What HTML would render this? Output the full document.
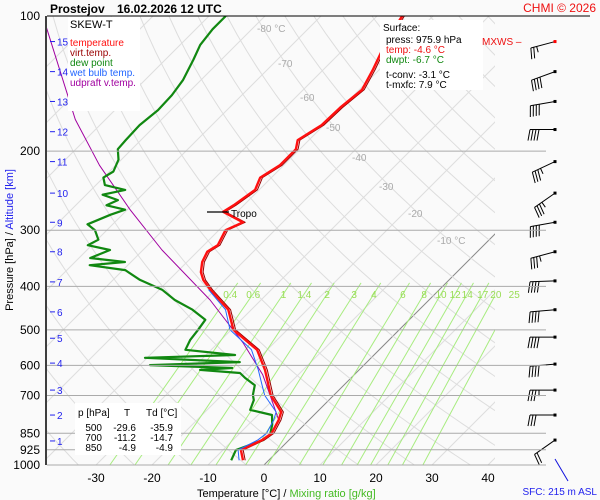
<!DOCTYPE html>
<html><head><meta charset="utf-8">
<style>
body{margin:0;background:#fafafa;}
svg{display:block;font-family:"Liberation Sans",sans-serif;}
</style></head>
<body>
<svg id="c" width="600" height="500" xmlns="http://www.w3.org/2000/svg">
<rect width="600" height="500" fill="#fafafa"/>
<g id="grid"></g>
<g id="series"></g>
<g id="barbs"></g>
<g id="labels"></g>
</svg>
<script>
// ---- data ----
const isobars = [100,200,300,400,500,600,700,850,925,1000];
const isobarLabels = ["100","200","300","400","500","600","700","850","925","1000"];
const xTicks = [-30,-20,-10,0,10,20,30,40];
const mixRatios = [0.4,0.6,1,1.4,2,3,4,6,8,10,12,14,17,20,25];
const altKm = [1,2,3,4,5,6,7,8,9,10,11,12,13,14,15];
const altPres = [884,774,681,593,522,456,391,335,288,248,211,181,155,133,114];
const tempP = [976,926,880,850,794,762,700,614,554,500,451,407,387,372,353,335,324,300,288,273,264,244,229,215,198,189,175,160,146,132,119,110,100];
const tempT = [-4.6,-6.8,-4.8,-4.3,-5.4,-6.4,-11.2,-16.8,-21.8,-29.6,-34.1,-40.9,-43.9,-45.7,-47.3,-48.2,-47.5,-48.8,-47.1,-52.5,-51.8,-50.7,-52.0,-50.7,-50.7,-52.0,-50.4,-50.2,-49.5,-51.1,-53.0,-54.3,-55.5];
const wbP = [976,926,880,850,794,762,700,664,614,554,500,451,407];
const wbT = [-5.3,-7.3,-5.6,-5.2,-6.3,-7.3,-12.3,-14.6,-18.0,-22.8,-30.2,-34.6,-41.2];
const dewP = [976,926,880,857,814,774,754,717,698,664,640,624,614,608,599,590,577,569,554,527,500,475,451,429,407,387,368,359,353,346,332,324,315,300,291,277,270,264,257,250,244,238,229,222,209,198,189,175,162,150,139,125,116,107,100];
const dewT = [-6.7,-7.7,-4.6,-4.3,-5.7,-7.5,-12.3,-13.4,-14.5,-15.9,-18.9,-20.7,-28.4,-23.0,-38.2,-22.7,-40.4,-24.8,-34.6,-35.5,-35.9,-36.4,-40.5,-45.4,-49.5,-55.2,-59.6,-66.8,-61.1,-68.0,-65.9,-70.7,-69.8,-72.1,-74.5,-72.1,-70.4,-74.5,-73.4,-77.1,-73.9,-78.4,-80.0,-79.3,-80.5,-82.5,-82.7,-82.9,-82.3,-82.5,-83.2,-85.0,-86.4,-87.0,-87.0];
const parcelP = [794,717,630,535,429,332,270,215,170,106];
const parcelT = [-5.4,-10.2,-16.3,-25.5,-39.1,-56.6,-69.5,-82.9,-95.4,-117];
const windP = [114,133,155,179,211,248,288,335,389,451,519,596,681,774,880];
const windDir = [255,250,260,270,245,235,260,255,268,265,270,265,270,270,235];
const windKt = [25,40,40,40,35,35,40,35,40,40,40,40,35,30,20];

// ---- axes ----
const L=47,R=495,TOP=16,BOT=465;
function py(p){return BOT-449*Math.log10(1000/p);}
function tx(T,p){return 264+5.6*T+(BOT-py(p));}
const NS="http://www.w3.org/2000/svg";
function mk(tag,attrs,parent){const e=document.createElementNS(NS,tag);for(const k in attrs)e.setAttribute(k,attrs[k]);parent.appendChild(e);return e;}
const grid=document.getElementById('grid'),series=document.getElementById('series'),barbs=document.getElementById('barbs'),labels=document.getElementById('labels');
const svg=document.getElementById('c');
const defs=mk('defs',{},svg);
const cp=mk('clipPath',{id:'pc'},defs);
mk('rect',{x:L,y:TOP,width:R-L,height:BOT-TOP},cp);
grid.setAttribute('clip-path','url(#pc)');
series.setAttribute('clip-path','url(#pc)');

for(let T=-160;T<=50;T+=10){
  const l=mk('line',{x1:tx(T,1000),y1:BOT,x2:tx(T,100),y2:TOP,stroke:T===0?'#888':'#ddd','stroke-width':1},grid);
  
  
}
for(let th=230;th<=500;th+=10){
  let d='';
  for(let p=1050;p>=100;p-=10){const T=th*Math.pow(p/1000,0.286)-273.15;d+=(d?'L':'M')+tx(T,p).toFixed(1)+','+py(p).toFixed(1);}
  const a=mk('path',{d:d,fill:'none',stroke:'#ddd','stroke-width':1},grid);
  
  
}
function tdw(w,p){const e=w*p/(622+w);const a=Math.log(e/6.112);return 243.5*a/(17.67-a);}
mixRatios.forEach(w=>{
  const m=mk('line',{x1:tx(tdw(w,1000),1000),y1:BOT,x2:tx(tdw(w,393),393),y2:py(393),stroke:'#a8ec80','stroke-width':1},grid);
  
  
  const t=mk('text',{x:tx(tdw(w,415),415),y:298,'font-size':10,fill:'#99dd55','text-anchor':'middle'},labels);
  t.textContent=String(w);
  
  
});
isobars.forEach((p,i)=>{
  const y=py(p);
  const l=mk('line',{x1:L,y1:y,x2:p===100?590:546,y2:y,stroke:p===100?'#000':'#aaa','stroke-width':1},labels);
  
  
  const t=mk('text',{x:40,y:y+4,'font-size':12,fill:'#000','text-anchor':'end'},labels);
  t.textContent=isobarLabels[i];
  
  
});
const isoLab=[[-80,"-80 °C",28],[-70,"-70",63],[-60,"-60",97],[-50,"-50",127],[-40,"-40",157],[-30,"-30",186],[-20,"-20",213],[-10,"-10 °C",240]];
isoLab.forEach(a=>{
  const p=1000*Math.pow(10,-(BOT-a[2])/449);
  const t=mk('text',{x:tx(a[0],p)+4,y:a[2]+4,'font-size':10,fill:'#aaa'},grid);
  t.textContent=a[1];
  
  
});

function poly(P,T,color,w,name){
  let d='';P.forEach((p,i)=>{d+=(i?'L':'M')+tx(T[i],p).toFixed(1)+','+py(p).toFixed(1);});
  const e=mk('path',{d:d,fill:'none',stroke:color,'stroke-width':w,'stroke-linejoin':'round'},series);
  
  
}
poly(parcelP,parcelT,'#a000a0',1,'updraft-virtual-temperature-line');
poly(dewP,dewT,'#118811',2.2,'dew-point-line');
poly(tempP,tempT.map(v=>v+0.4),'#990000',1,'virtual-temperature-line');
poly(tempP,tempT,'#ff1010',2.4,'temperature-line');
poly(wbP,wbT,'#2266ff',1,'wet-bulb-line');

const ax=mk('line',{x1:L-1,y1:TOP,x2:L-1,y2:BOT,stroke:'#000','stroke-width':1.5},labels);


xTicks.forEach(T=>{
  const t=mk('text',{x:tx(T,1000),y:482,'font-size':12,fill:'#000','text-anchor':'middle'},labels);
  t.textContent=String(T);
  
  
});

windP.forEach((p,i)=>{
  const y=py(p),x0=555;
  const r=windDir[i]*Math.PI/180,Lz=25;
  const ux=Math.sin(r),uy=-Math.cos(r);
  const ex=x0+ux*Lz,ey=y+uy*Lz;
  const g=mk('g',{},barbs);
  
  
  mk('line',{x1:x0,y1:y,x2:ex,y2:ey,stroke:'#000','stroke-width':1},g);
  mk('rect',{x:x0-1.5,y:y-1.5,width:3,height:3,fill:i===0?'#f00':'#000'},g);
  let s=windKt[i],k=0;
  const nx=uy,ny=-ux;
  while(s>=10){const bx=ex-ux*k*3,by=ey-uy*k*3;mk('line',{x1:bx,y1:by,x2:bx+nx*11+ux*2,y2:by+ny*11+uy*2,stroke:'#000','stroke-width':1},g);s-=10;k++;}
  if(s>=5){const bx=ex-ux*k*3,by=ey-uy*k*3;mk('line',{x1:bx,y1:by,x2:bx+nx*6,y2:by+ny*6,stroke:'#000','stroke-width':1},g);}
});
const sfc=mk('line',{x1:555,y1:459,x2:568,y2:481,stroke:'#1111dd','stroke-width':1},barbs);


</script>
<svg id="ov" width="600" height="500" style="position:absolute;left:0;top:0" font-family="Liberation Sans, sans-serif">
<text x="50" y="13" font-size="12" font-weight="bold">Prostejov</text>
<text x="117" y="13" font-size="12" font-weight="bold">16.02.2026 12 UTC</text>
<text x="596" y="12" font-size="12" fill="#ee1111" text-anchor="end">CHMI © 2026</text>
<g>
<rect x="68" y="17" width="72" height="94" fill="#fff"/>
<text x="70" y="28" font-size="11">SKEW-T</text>
<text x="70" y="46" font-size="10" fill="#ff1010">temperature</text>
<text x="70" y="56" font-size="10" fill="#990000">virt.temp.</text>
<text x="70" y="66" font-size="10" fill="#118811">dew point</text>
<text x="70" y="76" font-size="10" fill="#2266ff">wet bulb temp.</text>
<text x="70" y="86" font-size="10" fill="#a000a0">udpraft v.temp.</text>
</g>
<g id="alt"></g>
<g>
<rect x="380" y="20" width="103" height="70" fill="#fff"/>
<text x="383" y="31" font-size="10">Surface:</text>
<text x="386" y="43" font-size="10">press: 975.9 hPa</text>
<text x="386" y="53" font-size="10" fill="#ee1111">temp: -4.6 °C</text>
<text x="386" y="63" font-size="10" fill="#118811">dwpt: -6.7 °C</text>
<text x="386" y="78" font-size="10">t-conv: -3.1 °C</text>
<text x="386" y="88" font-size="10">t-mxfc: 7.9 °C</text>
</g>
<text x="482" y="45" font-size="10" fill="#ee1111">MXWS –</text>
<g>
<line x1="207" y1="212" x2="229" y2="212" stroke="#000" stroke-width="1.2"/>
<text x="231" y="217" font-size="10">Tropo</text>
</g>
<g font-size="10">
<rect x="75" y="403" width="106" height="52" fill="#fff"/>
<text x="78" y="416">p [hPa]</text><text x="124" y="416">T</text><text x="146" y="416">Td [°C]</text>
<text x="102" y="431" text-anchor="end">500</text><text x="136" y="431" text-anchor="end">-29.6</text><text x="173" y="431" text-anchor="end">-35.9</text>
<text x="102" y="441" text-anchor="end">700</text><text x="136" y="441" text-anchor="end">-11.2</text><text x="173" y="441" text-anchor="end">-14.7</text>
<text x="102" y="451" text-anchor="end">850</text><text x="136" y="451" text-anchor="end">-4.9</text><text x="173" y="451" text-anchor="end">-4.9</text>
</g>
<text x="197" y="497" font-size="11">Temperature [°C]  /  <tspan fill="#44bb22">Mixing ratio [g/kg]</tspan></text>
<text x="597" y="495" font-size="10" fill="#2222ee" text-anchor="end">SFC: 215 m ASL</text>
<text transform="translate(13,240) rotate(-90)" font-size="11" text-anchor="middle">Pressure [hPa]  /  <tspan fill="#2222ee">Altitude [km]</tspan></text>
</svg>
<script>
const altG=document.getElementById('alt');
altKm.forEach((k,i)=>{
  const y=py(altPres[i]);
  const l=mk('line',{x1:50,y1:y,x2:55,y2:y,stroke:'#2222ee','stroke-width':1},altG);
  
  
  const t=mk('text',{x:57,y:y+4,'font-size':10,fill:'#2222ee'},altG);
  t.textContent=String(k);
  
  
});
</script>
</body></html>
